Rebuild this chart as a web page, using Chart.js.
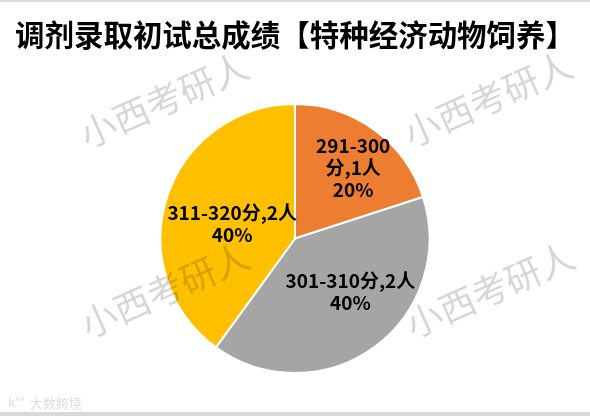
<!DOCTYPE html>
<html>
<head>
<meta charset="utf-8">
<script src="https://cdn.jsdelivr.net/npm/chart.js@4/dist/chart.umd.min.js"></script>
<style>
  html, body { margin: 0; padding: 0; background: #fff; }
  #wrap { width: 590px; height: 416px; position: relative; }
</style>
</head>
<body>
<div id="wrap"><canvas id="scoreChart" width="590" height="416"></canvas></div>
<script>
// Chart data
const chartTitle = '调剂录取初试总成绩【特种经济动物饲养】';
const scoreRanges = ['291-300分', '301-310分', '311-320分'];
const headcounts = [1, 2, 2];
const sliceColors = ['#ED7D31', '#A5A5A5', '#FFC000'];

// label placement inside each slice (angle shift in degrees, radius fraction)
const labelShift = [3.5, -10.3, -4.5];
const labelRadius = [0.68, 0.57, 0.48];
const labelWrap = [true, false, false];

const watermarkText = '小西考研人';
const watermarkSpots = [[164, 100], [488, 99], [165, 290], [490, 290]];

const total = headcounts.reduce((a, b) => a + b, 0);
const FONT = '"Noto Sans CJK SC", "Noto Sans", sans-serif';

const sliceLabels = {
  id: 'sliceLabels',
  afterDatasetsDraw(chart) {
    const ctx = chart.ctx;
    const arcs = chart.getDatasetMeta(0).data;
    ctx.save();
    ctx.font = 'bold 19px ' + FONT;
    ctx.fillStyle = '#000';
    ctx.textAlign = 'center';
    ctx.textBaseline = 'middle';
    arcs.forEach((arc, i) => {
      const p = arc.getProps(['x', 'y', 'startAngle', 'endAngle', 'outerRadius']);
      const mid = (p.startAngle + p.endAngle) / 2 + labelShift[i] * Math.PI / 180;
      const r = p.outerRadius * labelRadius[i];
      const cx = p.x + Math.cos(mid) * r;
      const cy = p.y + Math.sin(mid) * r;
      const pct = Math.round(headcounts[i] / total * 100) + '%';
      let lines;
      if (labelWrap[i]) {
        const range = scoreRanges[i].replace('分', '');
        lines = [range, '分,' + headcounts[i] + '人', pct];
      } else {
        lines = [scoreRanges[i] + ',' + headcounts[i] + '人', pct];
      }
      const lh = 22;
      const top = cy - (lines.length - 1) * lh / 2;
      lines.forEach((t, k) => ctx.fillText(t, cx, top + k * lh));
    });
    ctx.restore();
  }
};

const decorations = {
  id: 'decorations',
  beforeDraw(chart) {
    const ctx = chart.ctx;
    ctx.save();
    ctx.fillStyle = '#fff';
    ctx.fillRect(0, 0, chart.width, chart.height);
    ctx.fillStyle = '#d9d9d9';
    ctx.fillRect(0, 0, chart.width, 2);
    ctx.fillRect(0, chart.height - 4, chart.width, 4);
    ctx.restore();
  },
  afterDraw(chart) {
    const ctx = chart.ctx;
    ctx.save();
    ctx.font = '36px ' + FONT;
    ctx.fillStyle = 'rgba(0,0,0,0.16)';
    ctx.textAlign = 'center';
    ctx.textBaseline = 'middle';
    watermarkSpots.forEach(([x, y]) => {
      ctx.save();
      ctx.translate(x, y);
      ctx.rotate(-24 * Math.PI / 180);
      ctx.fillText(watermarkText, 0, 0);
      ctx.restore();
    });
    // small footer logo text
    ctx.font = '13px ' + FONT;
    ctx.fillStyle = 'rgba(0,0,0,0.14)';
    ctx.textAlign = 'left';
    ctx.fillText('k°°', 8, 402);
    ctx.fillText('大数跨境', 30, 403);
    ctx.restore();
  }
};

const ctx = document.getElementById('scoreChart').getContext('2d');
const scoreChart = new Chart(ctx, {
  type: 'pie',
  data: {
    labels: scoreRanges,
    datasets: [{
      data: headcounts,
      backgroundColor: sliceColors,
      borderColor: '#ffffff',
      borderWidth: 2
    }]
  },
  options: {
    responsive: false,
    animation: false,
    layout: {
      padding: { top: 0, bottom: 42, left: 15, right: 15 }
    },
    plugins: {
      legend: { display: false },
      tooltip: { enabled: false },
      title: {
        display: true,
        text: chartTitle,
        align: 'start',
        color: '#000',
        font: { family: FONT, size: 29.5, weight: 'bold', lineHeight: 1.2 },
        padding: { top: 17.3, bottom: 50.3 }
      }
    }
  },
  plugins: [decorations, sliceLabels]
});
</script>
</body>
</html>
